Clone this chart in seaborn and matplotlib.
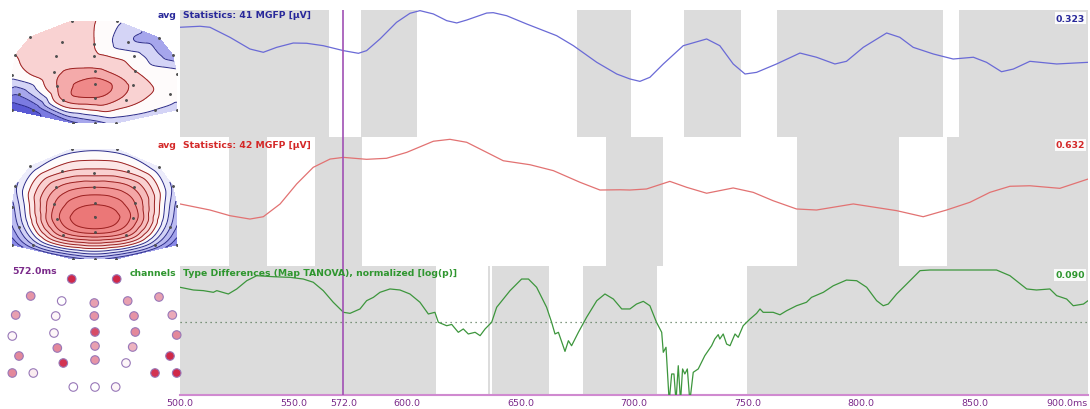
import numpy as np
import matplotlib
matplotlib.use("Agg")
import matplotlib.pyplot as plt
import matplotlib.tri as mtri
from matplotlib.colors import LinearSegmentedColormap, TwoSlopeNorm
import seaborn as sns
import pandas as pd

sns.set_style("white")
plt.rcParams['font.family'] = ['DejaVu Sans']

# ---------------- data ----------------
# Statistics 41 MGFP (percent of panel scale, max 0.323 uV)
ms41 = [500, 508.8, 513.2, 522.0, 530.8, 536.7, 542.6, 549.9, 555.8, 563.1,
        572.0, 578.6, 582.2, 588.1, 595.4, 601.3, 605.7, 611.6, 617.5, 621.9,
        626.3, 635.1, 638.0, 643.9, 652.7, 665.9, 673.3, 683.6, 692.4, 698.2,
        702.6, 707.0, 712.9, 721.7, 732.0, 737.8, 743.7, 748.9, 754.0, 762.8,
        773.1, 780.4, 788.5, 793.6, 801.0, 811.3, 817.1, 823.0, 831.8, 840.6,
        849.5, 855.3, 861.9, 867.1, 874.4, 886.2, 900]
mgfp41 = [86.4, 87.2, 86.4, 78.5, 69.3, 66.7, 70.6, 74.0, 73.8, 71.9,
          68.0, 65.9, 68.0, 77.2, 90.3, 97.4, 99.5, 96.9, 91.6, 89.8,
          92.1, 97.6, 97.9, 95.5, 89.0, 79.8, 71.9, 58.8, 49.6, 45.7,
          43.8, 47.0, 57.5, 71.9, 77.2, 71.9, 57.5, 49.6, 50.9, 57.5,
          66.1, 62.8, 57.5, 59.6, 70.6, 81.9, 78.5, 70.6, 65.4, 61.4,
          62.8, 58.8, 51.4, 53.5, 59.6, 57.5, 58.8]

# Statistics 42 MGFP (percent of panel scale, max 0.632 uV)
ms42 = [500, 513.2, 522.0, 530.8, 536.7, 544.1, 551.4, 558.7, 566.1, 572.0,
        582.2, 591.0, 599.9, 611.6, 618.9, 626.3, 635.1, 642.4, 654.2, 664.5,
        676.2, 685.0, 693.8, 698.2, 705.5, 715.8, 723.2, 732.0, 743.7, 752.5,
        761.3, 771.6, 780.4, 796.6, 815.7, 827.4, 837.7, 848.0, 856.8, 865.6,
        874.4, 887.6, 900]
mgfp42 = [48.1, 43.4, 39.0, 36.4, 38.2, 48.1, 63.6, 76.5, 82.9, 84.2,
          82.7, 83.5, 88.1, 96.7, 98.2, 95.9, 88.1, 81.6, 78.5, 73.9,
          64.9, 58.9, 59.1, 58.9, 59.7, 65.6, 61.0, 56.4, 60.5, 57.1,
          50.6, 44.2, 43.4, 48.1, 42.9, 38.2, 43.4, 49.4, 57.1, 61.8,
          62.2, 60.2, 67.4]

# TANOVA normalized log(p) (percent of panel scale)
ms_tanova = [500, 505.9, 510.3, 514.7, 516.2, 521.3, 525.0, 529.4, 533.8, 541.1,
             548.5, 554.3, 558.7, 563.1, 567.5, 572.0, 574.9, 579.3, 582.2, 585.2,
             588.1, 592.5, 596.9, 601.3, 605.7, 609.4, 612.3, 613.8, 617.5, 619.7,
             622.6, 624.8, 627.0, 630.0, 632.2, 634.4, 635.8, 637.3, 639.5, 645.4,
             650.5, 653.5, 657.1, 661.5, 663.7, 665.2, 666.7, 669.6, 671.1, 672.5,
             675.5, 679.1, 683.6, 687.2, 690.9, 694.6, 698.2,
             701.1, 704.1, 707.0, 709.9, 712.2, 712.9, 714.1, 715.5, 716.6, 717.6, 718.5,
             719.5, 720.5, 721.4, 722.4, 723.5, 724.6, 726.1, 728.3, 731.2, 734.2,
             735.6, 737.1, 737.8, 739.3, 740.8, 742.3, 744.5, 745.9, 748.1, 751.1,
             754.0, 755.5, 756.9, 761.3, 764.3, 767.2, 771.6, 776.0, 778.2, 783.4,
             787.8, 793.6, 798.1, 802.5, 806.9, 809.8, 812.0, 815.7, 820.1, 826.0,
             830.4, 845.0, 859.7, 865.6, 873.0, 877.3, 883.2, 886.2, 890.6, 893.5,
             898.0, 900]
tanova = [83.5, 81.4, 80.9, 79.6, 80.9, 78.3, 82.2, 88.6, 92.5, 91.7,
          91.2, 89.9, 87.4, 80.9, 71.9, 64.1, 63.3, 66.7, 73.1, 75.7,
          79.6, 82.2, 81.4, 78.3, 71.9, 62.8, 64.1, 56.4, 53.7, 54.7,
          48.6, 51.2, 47.3, 48.6, 46.0, 51.2, 53.7, 56.4, 68.0, 80.9,
          89.9, 89.9, 83.5, 68.0, 56.4, 47.3, 48.6, 33.8, 42.1, 38.2,
          48.6, 60.2, 73.1, 78.3, 74.4, 66.7, 66.7,
          70.5, 72.6, 69.2, 56.4, 48.6, 33.1, 37.0, -5.0, 16.3, 16.3, -5.0,
          22.7, -5.0, 20.2, 16.3, 20.2, -5.0, 17.6, 20.2, 30.5, 38.2,
          43.4, 46.8, 43.4, 47.3, 39.5, 38.2, 47.3, 44.7, 53.7, 58.9,
          63.3, 66.7, 64.1, 64.1, 62.2, 65.3, 69.2, 71.9, 75.7, 79.6,
          84.7, 89.1, 88.6, 83.5, 73.1, 69.2, 70.5, 78.3, 86.0, 96.4,
          96.9, 96.9, 96.9, 92.5, 82.2, 81.4, 82.2, 77.0, 74.4, 69.2,
          70.5, 73.1]
tanova_threshold = 56.4

# grey (non-significant) time windows, ms
grey41 = [(500, 565.6), (579.7, 604.5), (674.8, 698.5), (722.0, 747.0),
          (762.9, 836.0), (843.3, 900)]
grey42 = [(521.6, 538.3), (559.5, 580.2), (687.7, 712.9), (771.7, 816.9),
          (837.8, 900)]
grey_tanova = [(500, 612.8), (635.8, 636.6), (637.6, 662.7), (677.7, 710.0),
               (749.6, 900)]

cursor_ms = 572.0
tick_ms = [500, 550, 572, 600, 650, 700, 750, 800, 850, 900]
tick_labels = ["500.0", "550.0", "572.0", "600.0", "650.0", "700.0", "750.0",
               "800.0", "850.0", "900.0ms"]
scale_max = ["0.323", "0.632", "0.090"]

# electrode layout (x, y)
elec_x = [71.7, 116.7, 30.7, 61.7, 94.3, 127.7, 159.0, 15.7, 55.7, 94.3,
          134.0, 172.3, 12.3, 54.0, 95.0, 135.3, 176.7, 57.3, 95.0, 132.7,
          19.0, 63.3, 95.0, 126.0, 170.0, 12.3, 33.3, 155.0, 176.7, 73.3,
          95.0, 115.7]
elec_y = [0, 0, 17, 22, 24, 22, 18, 36, 37, 37,
          37, 36, 57, 54, 53, 53, 56, 69, 67, 68,
          77, 84, 81, 84, 77, 94, 94, 94, 94, 108,
          108, 108]
# topographic map values (normalized)
map41 = [0.32, -0.05, 0.35, 0.20, 0.15, -0.30, -0.50, 0.15, 0.20, 0.20,
         0.00, -0.50, 0.00, 0.35, 0.45, 0.15, 0.00, 0.40, 0.80, 0.35,
         -0.55, 0.40, 0.65, 0.30, 0.00, -1.05, -0.85, -0.10, -0.20, -0.65,
         -0.45, -0.30]
map42 = [-0.10, -0.10, -0.15, 0.20, 0.30, 0.20, -0.15, -0.20, 0.45, 0.60,
         0.45, -0.20, -0.35, 0.60, 0.85, 0.60, -0.35, 0.70, 1.00, 0.70,
         -0.30, 0.55, 0.80, 0.55, -0.30, -0.70, -0.30, -0.30, -0.70, -0.50,
         -0.40, -0.50]
# channel values at 572 ms (normalized)
chan572 = [1.00, 1.00, 0.55, 0.00, 0.50, 0.50, 0.50, 0.50, 0.05, 0.55,
           0.55, 0.45, 0.05, 0.05, 0.85, 0.60, 0.60, 0.60, 0.50, 0.40,
           0.60, 0.95, 0.55, 0.05, 1.00, 0.60, 0.10, 0.95, 1.00, 0.00,
           0.00, 0.05]

# ---------------- figure ----------------
W, H = 1090, 410
fig = plt.figure(figsize=(W / 100, H / 100), dpi=100)
fig.patch.set_facecolor("white")


def px_axes(x0, y0, x1, y1):
    return fig.add_axes([x0 / W, 1 - y1 / H, (x1 - x0) / W, (y1 - y0) / H])


def ftext(x, y, s, **kw):
    fig.text(x / W, 1 - y / H, s, **kw)


GREY = "#dcdcdc"
PURPLE = "#a050b4"
TICKPURPLE = "#7a2a8a"
BLUE_LINE, RED_LINE, GREEN_LINE = "#6a6ad6", "#e27272", "#3d963d"
BLUE_TXT, RED_TXT, GREEN_TXT = "#28289a", "#d42828", "#2f962f"

panels = [
    (px_axes(180, 11, 1088, 138), ms41, mgfp41, grey41, BLUE_LINE),
    (px_axes(180, 138, 1088, 267), ms42, mgfp42, grey42, RED_LINE),
    (px_axes(180, 267, 1088, 396), ms_tanova, tanova, grey_tanova, GREEN_LINE),
]
for ax, xs, ys, greys, col in panels:
    for a, b in greys:
        ax.axvspan(a, b, color=GREY, lw=0, zorder=0)
    df = pd.DataFrame({"ms": xs, "v": ys})
    sns.lineplot(data=df, x="ms", y="v", ax=ax, color=col, lw=0.9,
                 sort=False, estimator=None, zorder=3)
    ax.axvline(cursor_ms, color=PURPLE, lw=1.2, zorder=4)
    ax.set_xlim(500, 900)
    ax.set_ylim(0, 100)
    ax.set_xlabel("")
    ax.set_ylabel("")
    for s in ax.spines.values():
        s.set_visible(False)
    ax.set_yticks([])
    ax.set_xticks([])
    ax.patch.set_alpha(0)

ax3 = panels[2][0]
ax3.axhline(tanova_threshold, color="#5a7a5a", lw=0.9, ls=(0, (1, 3)), zorder=2)
ax3.spines["bottom"].set_visible(True)
ax3.spines["bottom"].set_color("#d08ad0")
ax3.spines["bottom"].set_linewidth(1.5)
ax3.set_xticks(tick_ms)
ax3.set_xticklabels(tick_labels)
ax3.tick_params(axis="x", direction="in", length=4, width=1, color="#c070c0",
                labelcolor=TICKPURPLE, labelsize=6.8, pad=2.5)
lbls = ax3.get_xticklabels()
lbls[-1].set_horizontalalignment("right")

# titles
fs = 6.7
ftext(176, 16, "avg", ha="right", va="center", color=BLUE_TXT, fontsize=fs, fontweight="bold")
ftext(183, 16, "Statistics: 41 MGFP [µV]", ha="left", va="center", color=BLUE_TXT, fontsize=fs, fontweight="bold")
ftext(176, 145, "avg", ha="right", va="center", color=RED_TXT, fontsize=fs, fontweight="bold")
ftext(183, 145, "Statistics: 42 MGFP [µV]", ha="left", va="center", color=RED_TXT, fontsize=fs, fontweight="bold")
ftext(176, 274, "channels", ha="right", va="center", color=GREEN_TXT, fontsize=fs, fontweight="bold")
ftext(183, 274, "Type Differences (Map TANOVA), normalized [log(p)]", ha="left", va="center",
      color=GREEN_TXT, fontsize=fs, fontweight="bold")
ftext(12, 272, f"{cursor_ms:.1f}ms", ha="left", va="center", color=TICKPURPLE, fontsize=fs, fontweight="bold")
for (yy, txt, c) in [(19, scale_max[0], BLUE_TXT), (146, scale_max[1], RED_TXT), (276, scale_max[2], GREEN_TXT)]:
    ftext(1085, yy, txt, ha="right", va="center", color=c, fontsize=fs, fontweight="bold",
          bbox=dict(facecolor="white", edgecolor="none", pad=0.8, alpha=0.9))

# ---------------- topographic maps ----------------
topo_cmap = LinearSegmentedColormap.from_list(
    "topo", ["#3434c8", "#8a8ae6", "#ffffff", "#f29a9a", "#e45454"])
ex = np.array(elec_x)
ey = np.array(elec_y, dtype=float)
tri = mtri.Triangulation(ex, ey)
refiner = mtri.UniformTriRefiner(tri)


def topomap(ax, values, step):
    z = np.array(values)
    interp = mtri.CubicTriInterpolator(tri, z, kind="geom")
    tri_r, z_r = refiner.refine_field(z, triinterpolator=interp, subdiv=4)
    levels = np.arange(-1.6, 1.6 + 1e-9, step)
    norm = TwoSlopeNorm(0, -1.25, 1.25)
    ax.tricontourf(tri_r, z_r, levels=levels, cmap=topo_cmap, norm=norm, extend="both")
    cols = ["#2a2a8a" if lv < -1e-6 else ("#202020" if abs(lv) < 1e-6 else "#9a2020") for lv in levels]
    ax.tricontour(tri_r, z_r, levels=levels, colors=cols, linewidths=0.7)
    ax.scatter(ex, ey, s=1.2, color="#505050", zorder=3)
    ax.set_xlim(ex.min(), ex.max())
    ax.set_ylim(ey.max(), ey.min())
    ax.axis("off")


topomap(px_axes(12, 22, 177, 124), map41, 0.25)
topomap(px_axes(12, 150, 177, 260), map42, 0.13)

# ---------------- channel dots ----------------
axd = px_axes(12.3, 280, 176.7, 388)
dot_cmap = LinearSegmentedColormap.from_list("dots", ["#ffffff", "#e8a0b0", "#d02848"])
dfd = pd.DataFrame({"x": elec_x, "y": elec_y, "v": chan572})
sns.scatterplot(data=dfd, x="x", y="y", hue="v", palette=dot_cmap, hue_norm=(0, 1),
                legend=False, ax=axd, s=38, edgecolor="#9878b8", linewidth=0.8, clip_on=False)
axd.set_xlim(12.3, 176.7)
axd.set_ylim(108, 0)
axd.axis("off")

fig.savefig("out.png", dpi=100, facecolor="white")
